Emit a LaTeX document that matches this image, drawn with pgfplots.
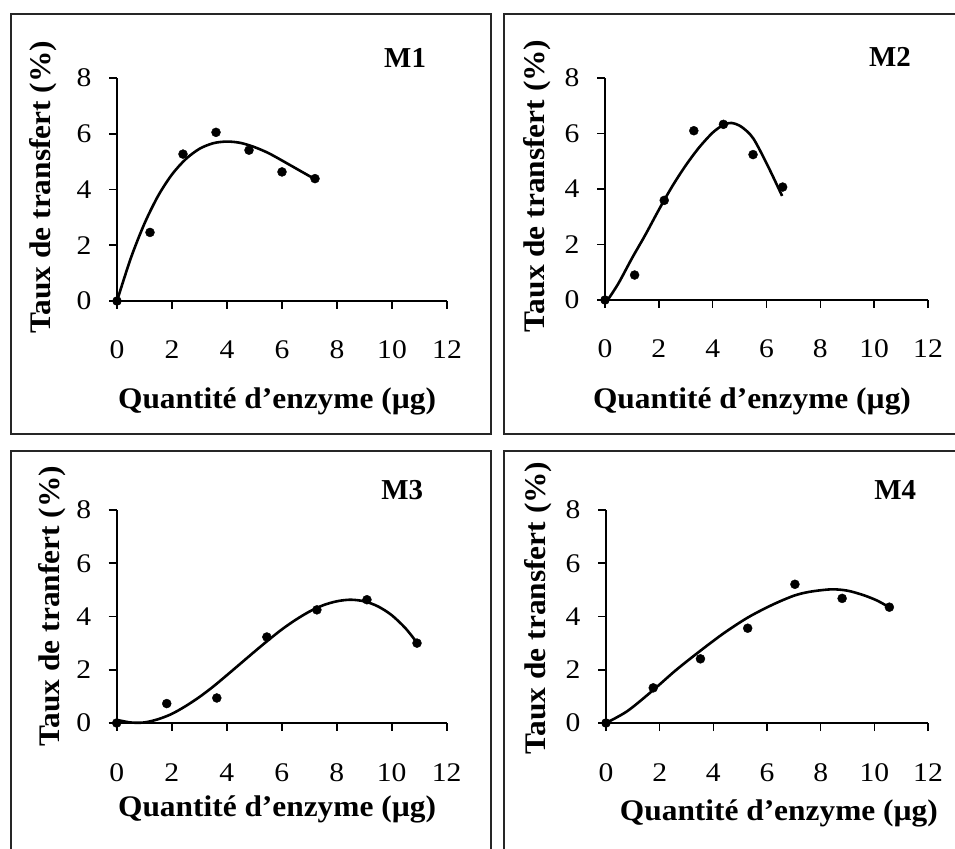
\documentclass[border=0pt]{standalone}
\usepackage{fontspec}
\setmainfont{Liberation Serif}
\newfontfamily\tickfont[FakeStretch=1.1]{Liberation Serif}
\newfontfamily\labfont[FakeStretch=1.05]{Liberation Serif}
\usepackage{pgfplots}
\pgfplotsset{compat=1.18}

\pgfplotsset{
  panel/.style={
    scale only axis,
    anchor=south west,
    xmin=0, xmax=12, ymin=0, ymax=8,
    enlarge x limits=false, enlarge y limits=false,
    axis lines*=left,
    axis line style={line width=1.6bp, black},
    xtick={0,2,4,6,8,10,12},
    ytick={0,2,4,6,8},
    tick align=outside,
    major tick length=8bp,
    every tick/.style={line width=1.6bp, black},
    tick label style={font=\tickfont\fontsize{27}{27}\selectfont},
    xticklabel style={anchor=base, yshift=-50bp},
    yticklabel style={anchor=east, xshift=-14bp},
    /pgf/number format/assume math mode=true,
    label style={font=\labfont\fontsize{30}{30}\selectfont\bfseries},
    clip=false,
  },
  curve/.style={line width=2.6bp, black, smooth, no markers},
  pts/.style={only marks, mark=*, mark size=4.5bp, black},
}

\begin{document}
\begin{tikzpicture}
\useasboundingbox (0bp,0bp) rectangle (955bp,849bp);

% panel borders
\draw[line width=2.4bp, black!85] (11bp,415bp) rectangle (490.7bp,835bp);
\draw[line width=2.4bp, black!85] (955bp,835bp) -- (504bp,835bp) -- (504bp,415bp) -- (955bp,415bp);
\draw[line width=2.4bp, black!85] (11bp,0bp) -- (11bp,398bp) -- (490.7bp,398bp) -- (490.7bp,0bp);
\draw[line width=2.4bp, black!85] (504bp,0bp) -- (504bp,398bp) -- (955bp,398bp);

% M1
\begin{axis}[panel, at={(117bp,548bp)}, width=330bp, height=223bp,
  xlabel={Quantité d’enzyme (µg)},
  xlabel style={at={(axis description cs:0.485,-0.48)}, anchor=base},
  ylabel={Taux de transfert (\%)},
  ylabel style={at={(axis description cs:-0.203,0.511)}, anchor=base, rotate=0},
]
\addplot[curve] coordinates {(0,0) (0.5,1.53) (1,2.78) (1.5,3.78) (2,4.54) (2.5,5.09) (3,5.46) (3.5,5.66) (4,5.72) (4.5,5.67) (5,5.52) (5.5,5.31) (6,5.04) (6.5,4.76) (7,4.48) (7.2,4.37)};
\addplot[pts] coordinates {(0,0) (1.2,2.46) (2.4,5.27) (3.6,6.05) (4.8,5.41) (6.0,4.63) (7.2,4.39)};
\node[anchor=base, font=\fontsize{29}{29}\selectfont\bfseries] at (axis description cs:0.873,1.049) {M1};
\end{axis}

% M2
\begin{axis}[panel, at={(605bp,549bp)}, width=323bp, height=222bp,
  xlabel={Quantité d’enzyme (µg)},
  xlabel style={at={(axis description cs:0.455,-0.491)}, anchor=base},
  ylabel={Taux de transfert (\%)},
  ylabel style={at={(axis description cs:-0.186,0.514)}, anchor=base, rotate=0},
]
\addplot[curve] coordinates {(0.1,0) (0.5,0.6) (1,1.5) (1.5,2.35) (2,3.25) (2.5,4.1) (3,4.85) (3.5,5.5) (4,6.03) (4.4,6.31) (4.7,6.38) (5.07,6.24) (5.51,5.82) (6.06,4.81) (6.58,3.75)};
\addplot[pts] coordinates {(0,0) (1.1,0.9) (2.2,3.59) (3.3,6.1) (4.4,6.33) (5.5,5.24) (6.6,4.07)};
\node[anchor=base, font=\fontsize{29}{29}\selectfont\bfseries] at (axis description cs:0.882,1.054) {M2};
\end{axis}

% M3
\begin{axis}[panel, at={(116.7bp,126bp)}, width=330bp, height=213bp,
  xlabel={Quantité d’enzyme (µg)},
  xlabel style={at={(axis description cs:0.486,-0.441)}, anchor=base},
  ylabel={Taux de tranfert (\%)},
  ylabel style={at={(axis description cs:-0.172,0.549)}, anchor=base, rotate=0},
]
\addplot[curve] coordinates {(0,0.12) (0.5,0.02) (1,0.02) (1.5,0.14) (2,0.34) (2.5,0.63) (3,0.97) (3.5,1.36) (4,1.79) (4.5,2.23) (5,2.67) (5.5,3.10) (6,3.51) (6.5,3.87) (7,4.18) (7.5,4.42) (8,4.57) (8.5,4.63) (9,4.57) (9.5,4.38) (10,4.05) (10.5,3.56) (10.91,3.03)};
\addplot[pts] coordinates {(0,0) (1.82,0.73) (3.64,0.94) (5.46,3.23) (7.28,4.25) (9.1,4.63) (10.92,3.0)};
\node[anchor=base, font=\fontsize{29}{29}\selectfont\bfseries] at (axis description cs:0.865,1.047) {M3};
\end{axis}

% M4
\begin{axis}[panel, at={(606bp,126bp)}, width=322bp, height=213bp,
  xlabel={Quantité d’enzyme (µg)},
  xlabel style={at={(axis description cs:0.537,-0.46)}, anchor=base},
  ylabel={Taux de transfert (\%)},
  ylabel style={at={(axis description cs:-0.189,0.54)}, anchor=base, rotate=0},
]
\addplot[curve] coordinates {(0,0) (0.8,0.45) (1.74,1.22) (2.6,1.98) (3.5,2.70) (4.4,3.38) (5.3,3.97) (6.2,4.44) (7.0,4.78) (7.6,4.93) (8.4,5.02) (9.0,4.97) (9.6,4.80) (10.1,4.60) (10.55,4.35)};
\addplot[pts] coordinates {(0,0) (1.76,1.32) (3.52,2.41) (5.28,3.56) (7.04,5.21) (8.8,4.68) (10.56,4.35)};
\node[anchor=base, font=\fontsize{29}{29}\selectfont\bfseries] at (axis description cs:0.898,1.047) {M4};
\end{axis}
\end{tikzpicture}
\end{document}
